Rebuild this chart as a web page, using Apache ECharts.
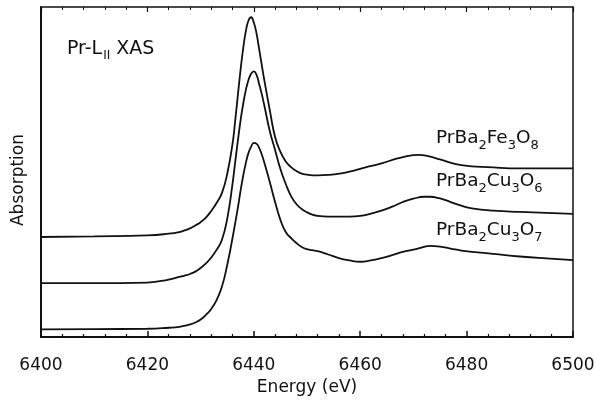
<!DOCTYPE html>
<html>
<head>
<meta charset="utf-8">
<script src="https://cdn.jsdelivr.net/npm/echarts@6/dist/echarts.min.js"></script>
<style>
  html, body { margin: 0; padding: 0; background: #fff; }
  #chart { width: 594px; height: 412px; }
</style>
</head>
<body>
<div id="chart"></div>
<script>
// Pr-LII XAS spectra (arbitrary absorption units, offset)
var xTicks = [6400, 6420, 6440, 6460, 6480, 6500]

var feEnergy = [6400, 6410, 6420, 6424, 6426, 6427, 6428, 6429, 6430, 6431, 6432, 6433, 6434, 6435, 6436, 6436.5, 6437, 6437.5, 6438, 6438.5, 6439, 6439.5, 6440, 6440.5, 6441, 6441.5, 6442, 6443, 6444, 6445, 6446, 6447, 6448, 6449, 6450, 6451, 6452, 6454, 6456, 6458, 6461, 6464, 6467, 6470, 6471, 6473, 6475, 6479, 6485, 6490, 6500]
var feAbs = [30.3, 30.5, 30.8, 31.3, 31.8, 32.3, 32.9, 33.8, 34.8, 36.2, 38.2, 40.6, 43.6, 49.4, 58.5, 65.5, 73.2, 80.8, 87.4, 92.6, 95.9, 96.9, 95.3, 92.1, 87.3, 82.4, 77.6, 68.8, 60.6, 56.1, 53.2, 51.5, 50.3, 49.5, 49.2, 49.0, 49.0, 49.1, 49.5, 50.1, 51.4, 52.6, 54.1, 55.1, 55.2, 54.7, 53.8, 52.1, 51.4, 51.1, 51.1]

var cu6Energy = [6400, 6410, 6420, 6424, 6426, 6427, 6428, 6429, 6430, 6431, 6432, 6433, 6434, 6435, 6436, 6436.5, 6437, 6437.5, 6438, 6438.5, 6439, 6439.5, 6440, 6440.5, 6441, 6441.5, 6442, 6443, 6444, 6445, 6446, 6447, 6448, 6449, 6450, 6451, 6452, 6454, 6456, 6458, 6460, 6462, 6464, 6466, 6468, 6470, 6472, 6473, 6475, 6477, 6479, 6481, 6485, 6490, 6500]
var cu6Abs = [16.3, 16.3, 16.5, 17.4, 18.2, 18.6, 19.1, 19.8, 20.9, 22.3, 24.1, 26.4, 29.4, 35.8, 46.4, 53.0, 59.4, 65.5, 70.6, 74.8, 77.9, 79.8, 80.5, 79.5, 76.7, 73.6, 70.0, 62.4, 56.7, 50.9, 46.4, 42.7, 40.3, 38.8, 37.8, 37.1, 36.7, 36.5, 36.5, 36.5, 36.7, 37.4, 38.3, 39.5, 40.9, 41.9, 42.5, 42.5, 42.0, 40.9, 39.8, 39.0, 38.3, 37.9, 37.3]

var cu7Energy = [6400, 6410, 6420, 6424, 6426, 6428, 6429, 6430, 6431, 6432, 6433, 6434, 6435, 6436, 6437, 6437.5, 6438, 6438.5, 6439, 6439.5, 6440, 6440.5, 6441, 6441.5, 6442, 6443, 6444, 6445, 6446, 6447, 6448, 6449, 6450, 6451, 6452, 6454, 6456, 6458, 6460, 6462, 6464, 6466, 6468, 6470, 6472, 6473, 6475, 6477, 6479, 6481, 6485, 6490, 6495, 6500]
var cu7Abs = [2.3, 2.4, 2.5, 2.8, 3.1, 3.8, 4.4, 5.3, 6.7, 8.5, 11.2, 15.2, 21.8, 30.0, 39.1, 44.2, 48.8, 52.7, 55.8, 57.7, 58.8, 58.6, 57.3, 55.3, 52.7, 47.0, 40.9, 35.5, 31.8, 30.0, 28.5, 27.3, 26.6, 26.3, 26.0, 25.0, 23.9, 23.2, 22.8, 23.2, 23.9, 24.8, 25.8, 26.5, 27.3, 27.6, 27.4, 26.8, 26.2, 25.8, 25.2, 24.4, 23.8, 23.3]

var FONT = 'DejaVu Sans'
var INK = '#111'

function pairs (xs, ys) {
  return xs.map((x, i) => [x, ys[i]])
}

function curve (name, xs, ys) {
  return {
    name: name,
    type: 'line',
    data: pairs(xs, ys),
    smooth: 0.5,
    showSymbol: false,
    lineStyle: { color: INK, width: 1.8 },
    silent: true
  }
}

function label (text, left, top, size) {
  return {
    type: 'text',
    left: left,
    top: top,
    style: {
      text: text,
      fill: INK,
      font: size + 'px ' + FONT,
      rich: {
        m: { fontSize: size, fontFamily: FONT, lineHeight: 22, fill: INK },
        s: { fontSize: 13, fontFamily: FONT, lineHeight: 13, padding: [14, 0, 0, 0], fill: INK },
        r: { fontSize: 12, fontFamily: FONT, lineHeight: 12, padding: [14, 6, 0, 1], fill: INK }
      }
    }
  }
}

var chart = echarts.init(document.getElementById('chart'))

var topAxis = {
  type: 'value',
  position: 'top',
  min: xTicks[0],
  max: xTicks[xTicks.length - 1],
  interval: 20,
  axisLine: { onZero: false, lineStyle: { color: INK, width: 1.5 } },
  axisTick: { inside: true, length: 5, lineStyle: { color: INK, width: 1.2 } },
  minorTick: { show: true, splitNumber: 5, length: 3, lineStyle: { color: INK, width: 1 } },
  axisLabel: { show: false },
  splitLine: { show: false }
}

chart.setOption({
  animation: false,
  grid: { left: 41, right: 21, top: 7, bottom: 75, outerBoundsMode: 'none' },
  xAxis: [{
    type: 'value',
    min: xTicks[0],
    max: xTicks[xTicks.length - 1],
    interval: 20,
    name: 'Energy (eV)',
    nameLocation: 'middle',
    nameGap: 42,
    nameTextStyle: { fontFamily: FONT, fontSize: 17, color: INK },
    axisLine: { onZero: false, lineStyle: { color: INK, width: 2 } },
    axisTick: { inside: true, length: 6, lineStyle: { color: INK, width: 1.5 } },
    minorTick: { show: true, splitNumber: 5, length: 3, lineStyle: { color: INK, width: 1.2 } },
    axisLabel: { fontFamily: FONT, fontSize: 17, color: INK, margin: 20, formatter: v => String(v) },
    splitLine: { show: false }
  }, topAxis],
  yAxis: [{
    type: 'value',
    min: 0,
    max: 100,
    axisLine: { show: true, onZero: false, lineStyle: { color: INK, width: 2 } },
    axisTick: { show: false },
    axisLabel: { show: false },
    splitLine: { show: false }
  }, {
    type: 'value',
    position: 'right',
    min: 0,
    max: 100,
    axisLine: { show: true, onZero: false, lineStyle: { color: INK, width: 1.5 } },
    axisTick: { show: false },
    axisLabel: { show: false },
    splitLine: { show: false }
  }],
  series: [
    curve('PrBa2Fe3O8', feEnergy, feAbs),
    curve('PrBa2Cu3O6', cu6Energy, cu6Abs),
    curve('PrBa2Cu3O7', cu7Energy, cu7Abs)
  ],
  graphic: [
    {
      type: 'text',
      x: 19,
      y: 180,
      rotation: Math.PI / 2,
      style: {
        text: 'Absorption',
        font: '17px ' + FONT,
        fill: INK,
        align: 'center',
        verticalAlign: 'middle'
      }
    },
    label('{m|Pr-L}{r|II}{m|XAS}', 67, 36, 19),
    label('{m|PrBa}{s|2}{m|Fe}{s|3}{m|O}{s|8}', 436, 125, 18.5),
    label('{m|PrBa}{s|2}{m|Cu}{s|3}{m|O}{s|6}', 436, 168, 18.5),
    label('{m|PrBa}{s|2}{m|Cu}{s|3}{m|O}{s|7}', 436, 217, 18.5)
  ]
})
</script>
</body>
</html>
